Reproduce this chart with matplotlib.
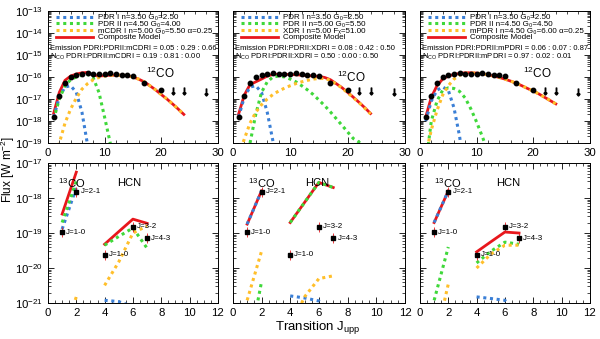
import matplotlib.pyplot as plt
from matplotlib.ticker import MultipleLocator, LogLocator, NullFormatter, FixedLocator
import numpy as np

plt.rcParams['font.family'] = ['Liberation Sans', 'DejaVu Sans']
plt.rcParams['mathtext.fontset'] = 'custom'
plt.rcParams['mathtext.rm'] = 'Liberation Sans'
plt.rcParams['mathtext.it'] = 'Liberation Sans:italic'
plt.rcParams['mathtext.bf'] = 'Liberation Sans:bold'

# ---------------- data ----------------
model_j = list(range(1, 25))

# observed 12CO SLED [W m^-2]
co_j = [1, 2, 3, 4, 5, 6, 7, 8, 9, 10, 11, 12, 13, 14, 15, 17, 20]
co_flux = [1.5e-18, 1.4e-17, 5.5e-17, 1.0e-16, 1.2e-16, 1.4e-16, 1.5e-16, 1.4e-16, 1.4e-16,
           1.4e-16, 1.5e-16, 1.4e-16, 1.2e-16, 1.2e-16, 1.15e-16, 5.5e-17, 2.5e-17]
co_lim_j = [22, 24, 28]
co_lim_flux = [2.3e-17, 2.3e-17, 2.0e-17]

# observed 13CO and HCN (HCN plotted at J+3)
co13_j = [1, 2]
co13_flux = [1.07e-19, 1.5e-18]
co13_names = ['J=1-0', 'J=2-1']
hcn_j = [4, 6, 7]
hcn_flux = [2.4e-20, 1.5e-19, 7.2e-20]
hcn_names = ['J=1-0', 'J=3-2', 'J=4-3']
iso_x = [1, 2]
hcn_x = [4, 5, 6, 7]

# left panel: PDR I + PDR II + mCDR I
a_pdr1 = [1.5e-18, 1.2e-17, 3.5e-17, 4.0e-17, 2.0e-17, 2.5e-18, 8.0e-20, 1.0e-21]
a_pdr2 = [1.2e-18, 1.0e-17, 4.0e-17, 7.5e-17, 1.0e-16, 1.2e-16, 1.3e-16, 9.0e-17, 2.0e-17,
          1.5e-18, 1.0e-19, 3.0e-21]
a_third = [2.0e-20, 1.0e-19, 8.0e-19, 3.5e-18, 1.1e-17, 2.8e-17, 5.0e-17, 7.5e-17, 9.5e-17,
           1.1e-16, 1.2e-16, 1.2e-16, 1.2e-16, 1.15e-16, 1.0e-16, 8.0e-17, 6.0e-17, 4.0e-17,
           2.6e-17, 1.6e-17, 1.0e-17, 6.0e-18, 3.5e-18, 2.0e-18]
a_comp = [2.2e-18, 2.0e-17, 7.0e-17, 1.1e-16, 1.35e-16, 1.55e-16, 1.6e-16, 1.2e-16, 1.1e-16,
          1.15e-16, 1.2e-16, 1.2e-16, 1.2e-16, 1.15e-16, 1.0e-16, 8.0e-17, 6.0e-17, 4.0e-17,
          2.6e-17, 1.6e-17, 1.0e-17, 6.0e-18, 3.5e-18, 2.0e-18]
a_co13_pdr1 = [1.3e-19, 2.0e-18]
a_co13_pdr2 = [2.0e-19, 3.0e-18]
a_co13_third = [1.0e-22, 1.5e-21]
a_co13_comp = [3.5e-19, 5.5e-18]
a_hcn_pdr1 = [1.2e-21, 1.1e-21, 8.0e-22, 2.0e-22]
a_hcn_pdr2 = [4.5e-20, 8.0e-20, 1.4e-19, 3.7e-20]
a_hcn_third = [3.2e-21, 1.5e-20, 1.0e-19, 1.6e-19]
a_hcn_comp = [4.8e-20, 1.1e-19, 2.5e-19, 1.9e-19]

# middle panel: PDR I + PDR II + XDR I
b_pdr1 = [1.5e-18, 1.2e-17, 3.5e-17, 4.0e-17, 2.0e-17, 2.5e-18, 1.2e-19, 2.0e-21]
b_pdr2 = [1.0e-22, 1.0e-21, 1.0e-19, 2.0e-18, 2.0e-17, 6.0e-17, 1.0e-16, 1.1e-16, 1.0e-16,
          8.0e-17, 6.0e-17, 4.0e-17, 2.6e-17, 1.6e-17, 9.0e-18, 5.0e-18, 2.6e-18, 1.3e-18,
          6.5e-19, 3.2e-19, 1.6e-19, 1.1e-19, 6.0e-20]
b_third = [3.0e-20, 1.5e-19, 8.0e-19, 2.5e-18, 5.5e-18, 1.0e-17, 1.6e-17, 2.3e-17, 3.1e-17,
           4.0e-17, 5.0e-17, 6.0e-17, 7.0e-17, 8.0e-17, 8.5e-17, 8.5e-17, 7.0e-17, 4.8e-17,
           3.2e-17, 1.9e-17, 1.15e-17, 6.8e-18, 3.8e-18, 2.1e-18]
b_comp = [2.0e-18, 1.5e-17, 4.5e-17, 6.0e-17, 8.0e-17, 1.1e-16, 1.3e-16, 1.3e-16, 1.3e-16,
          1.3e-16, 1.25e-16, 1.2e-16, 1.15e-16, 1.1e-16, 1.05e-16, 9.5e-17, 7.5e-17, 5.0e-17,
          3.3e-17, 2.0e-17, 1.2e-17, 7.0e-18, 4.0e-18, 2.2e-18]
b_co13_pdr1 = [1.8e-19, 1.6e-18]
b_co13_pdr2 = [3.0e-23, 4.0e-21]
b_co13_third = [1.2e-21, 3.0e-20]
b_co13_comp = [1.8e-19, 1.6e-18]
b_hcn_pdr1 = [1.6e-21, 1.4e-21, 1.15e-21, 5.0e-22]
b_hcn_pdr2 = [2.0e-19, 7.5e-19, 2.8e-18, 2.0e-18]
b_hcn_third = [2.0e-22, 1.5e-21, 5.0e-21, 6.0e-21]
b_hcn_comp = [2.0e-19, 7.5e-19, 2.8e-18, 2.0e-18]

# right panel: PDR I + PDR II + mPDR I
c_pdr1 = [1.0e-18, 8.0e-18, 2.5e-17, 3.5e-17, 2.5e-17, 4.0e-18, 2.0e-19, 2.0e-21]
c_pdr2 = [1.0e-20, 1.0e-18, 8.0e-18, 2.5e-17, 3.2e-17, 3.0e-17, 2.2e-17, 1.1e-17, 3.5e-18,
          9.0e-19, 2.0e-19, 4.0e-20]
c_third = [3.0e-20, 4.0e-19, 3.0e-18, 1.5e-17, 4.0e-17, 8.0e-17, 1.2e-16, 1.45e-16, 1.5e-16,
           1.5e-16, 1.4e-16, 1.25e-16, 1.1e-16, 9.5e-17, 8.0e-17, 6.5e-17, 5.2e-17, 4.0e-17,
           3.0e-17, 2.3e-17, 1.7e-17, 1.2e-17, 8.5e-18, 6.0e-18]
c_comp = [1.5e-18, 1.2e-17, 4.0e-17, 8.0e-17, 1.1e-16, 1.3e-16, 1.45e-16, 1.55e-16, 1.55e-16,
          1.5e-16, 1.4e-16, 1.25e-16, 1.1e-16, 9.5e-17, 8.0e-17, 6.5e-17, 5.2e-17, 4.0e-17,
          3.0e-17, 2.3e-17, 1.7e-17, 1.2e-17, 8.5e-18, 6.0e-18]
c_co13_pdr1 = [2.0e-19, 1.6e-18]
c_co13_pdr2 = [1.2e-21, 4.0e-20]
c_co13_third = [6.0e-23, 3.5e-21]
c_co13_comp = [2.0e-19, 1.6e-18]
c_hcn_pdr1 = [1.5e-21, 1.35e-21, 1.2e-21, 5.0e-22]
c_hcn_pdr2 = [1.4e-20, 3.0e-20, 5.5e-20, 4.8e-20]
c_hcn_third = [1.0e-20, 2.5e-20, 4.5e-20, 4.5e-20]
c_hcn_comp = [2.9e-20, 5.6e-20, 1.07e-19, 1.0e-19]

a_labels = ['PDR I n=3.50 G₀=2.50', 'PDR II n=4.50 G₀=4.00',
            'mCDR I n=5.00 G₀=5.50 α=0.25', 'Composite Model']
b_labels = ['PDR I n=3.50 G₀=2.50', 'PDR II n=5.00 G₀=5.50',
            'XDR I n=5.00 Fₓ=51.00', 'Composite Model']
c_labels = ['PDR I n=3.50 G₀=2.50', 'PDR II n=4.50 G₀=4.50',
            'mPDR I n=4.50 G₀=6.00 α=0.25', 'Composite Model']
a_emis = 'Emission PDRI:PDRII:mCDRI = 0.05 : 0.29 : 0.66'
b_emis = 'Emission PDRI:PDRII:XDRI = 0.08 : 0.42 : 0.50'
c_emis = 'Emission PDRI:PDRII:mPDRI = 0.06 : 0.07 : 0.87'
a_nco = 'N$_{\\rm CO}$ PDRI:PDRII:mCDRI = 0.19 : 0.81 : 0.00'
b_nco = 'N$_{\\rm CO}$ PDRI:PDRII:XDRI = 0.50 : 0.00 : 0.50'
c_nco = 'N$_{\\rm CO}$ PDRI:PDRII:mPDRI = 0.97 : 0.02 : 0.01'

top_yticks = [1e-19, 1e-18, 1e-17, 1e-16, 1e-15, 1e-14, 1e-13]
bot_yticks = [1e-21, 1e-20, 1e-19, 1e-18, 1e-17]

BLUE = '#3a7fd6'
GREEN = '#3fd83a'
ORANGE = '#ffbf2a'
RED = '#e8161c'
DOT = dict(ls=(0, (1, 1.2)), lw=2.2)

panels = [
    (a_pdr1, a_pdr2, a_third, a_comp, a_labels, a_emis, a_nco,
     a_co13_pdr1, a_co13_pdr2, a_co13_third, a_co13_comp,
     a_hcn_pdr1, a_hcn_pdr2, a_hcn_third, a_hcn_comp),
    (b_pdr1, b_pdr2, b_third, b_comp, b_labels, b_emis, b_nco,
     b_co13_pdr1, b_co13_pdr2, b_co13_third, b_co13_comp,
     b_hcn_pdr1, b_hcn_pdr2, b_hcn_third, b_hcn_comp),
    (c_pdr1, c_pdr2, c_third, c_comp, c_labels, c_emis, c_nco,
     c_co13_pdr1, c_co13_pdr2, c_co13_third, c_co13_comp,
     c_hcn_pdr1, c_hcn_pdr2, c_hcn_third, c_hcn_comp),
]

lefts = [0.080, 0.388, 0.700]
widths = [0.283, 0.287, 0.283]
co12_pos = [(0.66, 0.53), (0.69, 0.50), (0.69, 0.53)]
co13_pos = [(0.14, 0.86), (0.17, 0.86), (0.16, 0.86)]
hcn_pos = [(0.48, 0.86), (0.49, 0.86), (0.52, 0.86)]


def style(ax, top):
    ax.set_yscale('log')
    ax.tick_params(which='both', direction='in', top=True, right=True, labelsize=8.2)
    ax.tick_params(which='major', length=4, width=0.6)
    ax.tick_params(which='minor', length=2, width=0.5)
    ax.yaxis.set_minor_locator(LogLocator(base=10, subs=np.arange(2, 10), numticks=20))
    ax.yaxis.set_minor_formatter(NullFormatter())
    if top:
        ax.set_xlim(0, 30)
        ax.set_ylim(1e-19, 1e-13)
        ax.yaxis.set_major_locator(FixedLocator(top_yticks))
        ax.xaxis.set_major_locator(MultipleLocator(10))
        ax.xaxis.set_minor_locator(MultipleLocator(2))
    else:
        ax.set_xlim(0, 12)
        ax.set_ylim(1e-21, 1e-17)
        ax.yaxis.set_major_locator(FixedLocator(bot_yticks))
        ax.xaxis.set_major_locator(MultipleLocator(2))
        ax.xaxis.set_minor_locator(MultipleLocator(0.5))
    for sp in ax.spines.values():
        sp.set_linewidth(0.7)


fig = plt.figure(figsize=(6, 3.39), dpi=100)

for i, p in enumerate(panels):
    (pdr1, pdr2, third, comp, labels, emis, nco,
     i_p1, i_p2, i_th, i_cm, h_p1, h_p2, h_th, h_cm) = p

    # ---- top: 12CO ----
    ax = fig.add_axes([lefts[i], 0.578, widths[i], 0.390])
    style(ax, True)
    l4, = ax.plot(model_j[:len(comp)], comp, color=RED, lw=2.0)
    l1, = ax.plot(model_j[:len(pdr1)], pdr1, color=BLUE, **DOT)
    l2, = ax.plot(model_j[:len(pdr2)], pdr2, color=GREEN, **DOT)
    l3, = ax.plot(model_j[:len(third)], third, color=ORANGE, **DOT)
    ax.plot(co_j, co_flux, 'o', color='black', ms=3.2, zorder=5)
    ax.plot(co_lim_j, co_lim_flux, ls='none', marker=r'$\downarrow$', color='black',
            ms=5, zorder=5)
    ax.legend([l1, l2, l3, l4], labels, loc='upper left', bbox_to_anchor=(0.04, 0.99),
              frameon=False, fontsize=5.8, handlelength=4.6, handletextpad=0.6,
              labelspacing=-0.12, borderaxespad=0.0, borderpad=0.2)
    ax.text(0.01, 0.715, emis, transform=ax.transAxes, fontsize=5.5, va='center')
    ax.text(0.01, 0.65, nco, transform=ax.transAxes, fontsize=5.5, va='center')
    ax.text(co12_pos[i][0], co12_pos[i][1], '$^{12}$CO', transform=ax.transAxes,
            fontsize=8.5, ha='center', va='center')
    if i > 0:
        ax.tick_params(labelleft=False)

    # ---- bottom: 13CO and HCN ----
    bx = fig.add_axes([lefts[i], 0.106, widths[i], 0.413])
    style(bx, False)
    bx.plot(iso_x, i_cm, color=RED, lw=2.0)
    bx.plot(iso_x, i_p1, color=BLUE, **DOT)
    bx.plot(iso_x, i_p2, color=GREEN, **DOT)
    bx.plot(iso_x, i_th, color=ORANGE, **DOT)
    bx.plot(hcn_x, h_cm, color=RED, lw=2.0)
    bx.plot(hcn_x, h_p1, color=BLUE, **DOT)
    bx.plot(hcn_x, h_p2, color=GREEN, **DOT)
    bx.plot(hcn_x, h_th, color=ORANGE, **DOT)
    for xs, ys, names in [(co13_j, co13_flux, co13_names), (hcn_j, hcn_flux, hcn_names)]:
        bx.errorbar(xs, ys, yerr=[np.array(ys) * 0.3, np.array(ys) * 0.35], fmt='none',
                    ecolor=RED, elinewidth=0.6, capsize=0, zorder=4)
        bx.plot(xs, ys, 's', color='black', ms=3.2, zorder=5)
        for x, y, n in zip(xs, ys, names):
            bx.annotate(n, (x, y), xytext=(3, 0), textcoords='offset points',
                        fontsize=5.8, va='center', ha='left')
    bx.text(co13_pos[i][0], co13_pos[i][1], '$^{13}$CO', transform=bx.transAxes,
            fontsize=8, ha='center', va='center')
    bx.text(hcn_pos[i][0], hcn_pos[i][1], 'HCN', transform=bx.transAxes,
            fontsize=8, ha='center', va='center')
    if i > 0:
        bx.tick_params(labelleft=False)

fig.text(0.0135, 0.50, 'Flux [W m$^{-2}$]', rotation=90, ha='center', va='center', fontsize=8.5)
fig.text(0.53, 0.035, 'Transition J$_{\\rm upp}$', ha='center', va='center', fontsize=9.5)

fig.savefig('out.png', dpi=100)
